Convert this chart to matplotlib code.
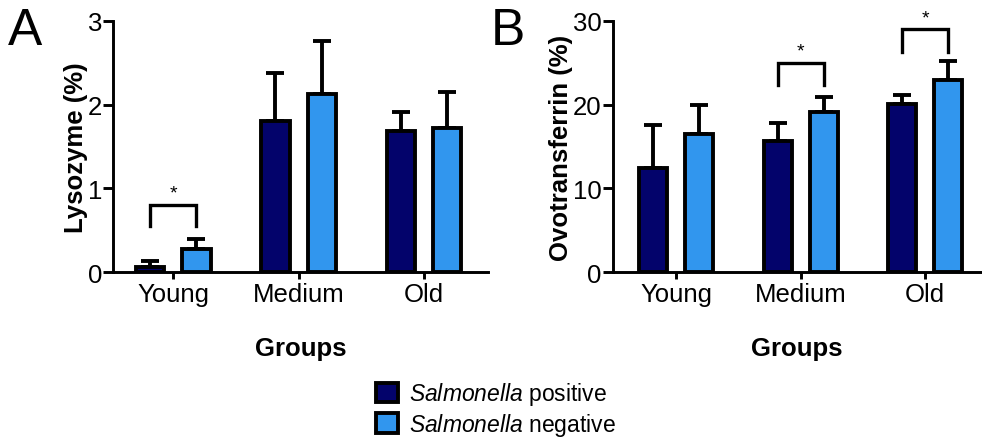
import matplotlib.pyplot as plt
import numpy as np
from matplotlib.patches import Patch

plt.rcParams['font.family'] = ['Liberation Sans', 'DejaVu Sans']
plt.rcParams['mathtext.fontset'] = 'custom'
plt.rcParams['mathtext.rm'] = 'Liberation Sans'
plt.rcParams['mathtext.it'] = 'Liberation Sans:italic'

# data
groups = ['Young', 'Medium', 'Old']
lys_pos = [0.06, 1.81, 1.68]
lys_pos_err = [0.07, 0.57, 0.23]
lys_neg = [0.27, 2.13, 1.72]
lys_neg_err = [0.13, 0.63, 0.43]

ovo_pos = [12.4, 15.6, 20.1]
ovo_pos_err = [5.2, 2.2, 1.0]
ovo_neg = [16.5, 19.1, 23.0]
ovo_neg_err = [3.5, 1.8, 2.2]

# significance brackets: (group index, bracket top, leg bottom)
lys_sig = [(0, 0.80, 0.55)]
ovo_sig = [(1, 25.0, 22.3), (2, 29.0, 26.3)]

dark = '#03036b'
light = '#3196ee'
edge_lw = 2.8

fig = plt.figure(figsize=(9.82, 4.39), dpi=100)
axA = fig.add_axes([0.1151, 0.3781, 0.3818, 0.5718])
axB = fig.add_axes([0.6242, 0.3781, 0.3748, 0.5718])

x = np.arange(len(groups))
off = 0.185
w = 0.225


def draw(ax, pos, pos_err, neg, neg_err, ymax, yticks, ylabel, sig, star_gap, xlim):
    for vals, errs, dx, col in [(pos, pos_err, -off, dark), (neg, neg_err, off, light)]:
        ax.bar(x + dx, vals, width=w, color=col, edgecolor='black', linewidth=edge_lw, zorder=3)
        ax.errorbar(x + dx, vals, yerr=[np.zeros(len(vals)), errs], fmt='none',
                    ecolor='black', elinewidth=edge_lw, capsize=6.5, capthick=edge_lw, zorder=2)
    for gi, top, leg in sig:
        x0, x1 = gi - off, gi + off
        ax.plot([x0, x0, x1, x1], [leg, top, top, leg], color='black', lw=2.4,
                solid_joinstyle='miter', clip_on=False)
        ax.text(gi, top + star_gap, '*', ha='center', va='bottom', fontsize=14)
    ax.set_ylim(0, ymax)
    ax.set_xlim(*xlim)
    ax.set_yticks(yticks)
    ax.set_xticks(x)
    ax.set_xticklabels(groups)
    ax.spines['top'].set_visible(False)
    ax.spines['right'].set_visible(False)
    ax.spines['left'].set_linewidth(2.1)
    ax.spines['bottom'].set_linewidth(2.1)
    ax.tick_params(axis='y', length=7, width=2.1, labelsize=18.5, pad=1)
    ax.tick_params(axis='x', length=5, width=2.1, labelsize=18.5, pad=2)
    ax.set_ylabel(ylabel, fontsize=18.5, fontweight='bold', labelpad=0)
    ax.set_xlabel('Groups', fontsize=18.5, fontweight='bold', labelpad=22)


draw(axA, lys_pos, lys_pos_err, lys_neg, lys_neg_err, 3, [0, 1, 2, 3],
     'Lysozyme (%)', lys_sig, 0.04, (-0.48, 2.51))
draw(axB, ovo_pos, ovo_pos_err, ovo_neg, ovo_neg_err, 30, [0, 10, 20, 30],
     'Ovotransferrin (%)', ovo_sig, 0.4, (-0.51, 2.45))

fig.text(0.008, 0.985, 'A', fontsize=37, va='top', ha='left')
fig.text(0.500, 0.985, 'B', fontsize=37, va='top', ha='left')

handles = [Patch(facecolor=dark, edgecolor='black', linewidth=edge_lw),
           Patch(facecolor=light, edgecolor='black', linewidth=edge_lw)]
labels = [r'$\it{Salmonella}$ positive', r'$\it{Salmonella}$ negative']
fig.legend(handles, labels, loc='center', bbox_to_anchor=(0.505, 0.066), frameon=False,
           fontsize=16.5, handlelength=0.95, handleheight=0.95, handletextpad=0.5,
           labelspacing=0.15)

plt.savefig('out.png', dpi=100)
